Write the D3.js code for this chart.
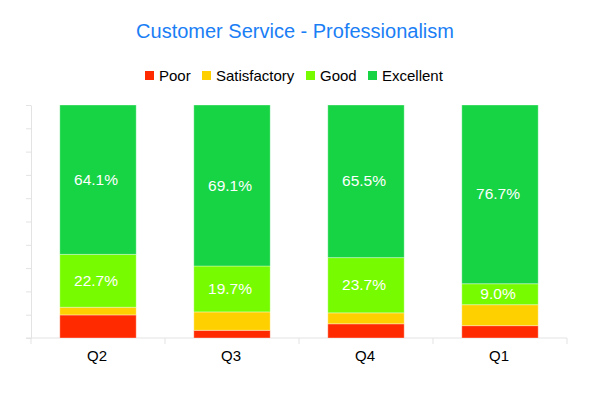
<!DOCTYPE html>
<html>
<head>
<meta charset="utf-8">
<script src="https://cdn.jsdelivr.net/npm/d3@7"></script>
<style>
  body { margin: 0; background: #fff; }
  svg { font-family: "Liberation Sans", Arial, sans-serif; }
  .axis line, .axis path { stroke: #e3e3e3; }
</style>
</head>
<body>
<svg id="chart" width="591" height="393"></svg>
<script>
// data (percent)
var quarters = ["Q2", "Q3", "Q4", "Q1"];
var seriesNames = ["Poor", "Satisfactory", "Good", "Excellent"];
var poor = [9.9, 3.3, 6.1, 5.3];
var satisfactory = [3.3, 7.9, 4.7, 9.0];
var good = [22.7, 19.7, 23.7, 9.0];
var excellent = [64.1, 69.1, 65.5, 76.7];
var colors = ["#ff2a00", "#ffd000", "#77fb00", "#16d444"];
var showLabel = [false, false, true, true];

var rows = quarters.map(function(q, i) {
    return { q: q, Poor: poor[i], Satisfactory: satisfactory[i], Good: good[i], Excellent: excellent[i] };
});

var svg = d3.select("#chart");
var margin = { top: 105, bottom: 55, left: 31, right: 24 },
    width = +svg.attr("width"),
    height = +svg.attr("height");

var x = d3.scaleBand()
    .domain(quarters)
    .range([margin.left, width - margin.right])
    .paddingInner(0.43)
    .paddingOuter(0.215);

var xOuter = d3.scaleBand()
    .domain(quarters)
    .range([margin.left, width - margin.right]);

var y = d3.scaleLinear()
    .domain([0, 100])
    .range([height - margin.bottom, margin.top]);

// y axis: just minor ticks, no labels
svg.append("g")
    .attr("class", "axis")
    .attr("transform", `translate(${margin.left},0)`)
    .call(d3.axisLeft(y).ticks(10).tickSize(5).tickSizeOuter(0).tickFormat(""));

// x axis with separator ticks between bands
var xg = svg.append("g")
    .attr("class", "axis")
    .attr("transform", `translate(0,${height - margin.bottom})`);
xg.append("line")
    .attr("x1", margin.left - 5).attr("x2", width - margin.right)
    .attr("y1", 0).attr("y2", 0);
xg.selectAll(".sep")
    .data(quarters.concat(["end"]))
    .enter().append("line")
    .attr("x1", (d, i) => i < quarters.length ? xOuter(d) : xOuter(quarters[quarters.length - 1]) + xOuter.bandwidth())
    .attr("x2", (d, i) => i < quarters.length ? xOuter(d) : xOuter(quarters[quarters.length - 1]) + xOuter.bandwidth())
    .attr("y1", 0).attr("y2", 6);
xg.selectAll(".lbl")
    .data(quarters)
    .enter().append("text")
    .attr("x", d => x(d) + x.bandwidth() / 2 - 1)
    .attr("y", 23)
    .attr("text-anchor", "middle")
    .style("font-size", "15px")
    .attr("fill", "#000")
    .text(d => d);

var stacked = d3.stack().keys(seriesNames)(rows);

var layers = svg.append("g").selectAll("g")
    .data(stacked)
    .enter().append("g")
    .attr("fill", (d, i) => colors[i]);

layers.selectAll("rect")
    .data(d => d)
    .enter().append("rect")
    .attr("x", d => x(d.data.q))
    .attr("y", d => y(d[1]))
    .attr("width", x.bandwidth())
    .attr("height", d => y(d[0]) - y(d[1]))
    .attr("stroke", "rgba(255,255,255,0.35)")
    .attr("stroke-width", 1);

layers.filter((d, i) => showLabel[i])
    .selectAll("text")
    .data(d => d)
    .enter().append("text")
    .attr("x", d => x(d.data.q) + x.bandwidth() / 2 - 2)
    .attr("y", d => (y(d[0]) + y(d[1])) / 2 + 5)
    .attr("text-anchor", "middle")
    .attr("fill", "#fff")
    .style("font-size", "15.5px")
    .text(d => (d[1] - d[0]).toFixed(1) + "%");

// title
svg.append("text")
    .attr("x", 295)
    .attr("y", 38)
    .attr("text-anchor", "middle")
    .attr("fill", "#1a7ef5")
    .style("font-size", "20px")
    .text("Customer Service - Professionalism");

// legend
var legendX = [145, 202, 306, 368];
var legend = svg.append("g")
    .selectAll("g")
    .data(seriesNames)
    .enter().append("g")
    .attr("transform", (d, i) => `translate(${legendX[i]},71)`);
legend.append("rect")
    .attr("width", 9).attr("height", 9)
    .attr("fill", (d, i) => colors[i]);
legend.append("text")
    .attr("x", 14)
    .attr("y", 10)
    .style("font-size", "15px")
    .attr("fill", "#000")
    .text(d => d);
</script>
</body>
</html>
